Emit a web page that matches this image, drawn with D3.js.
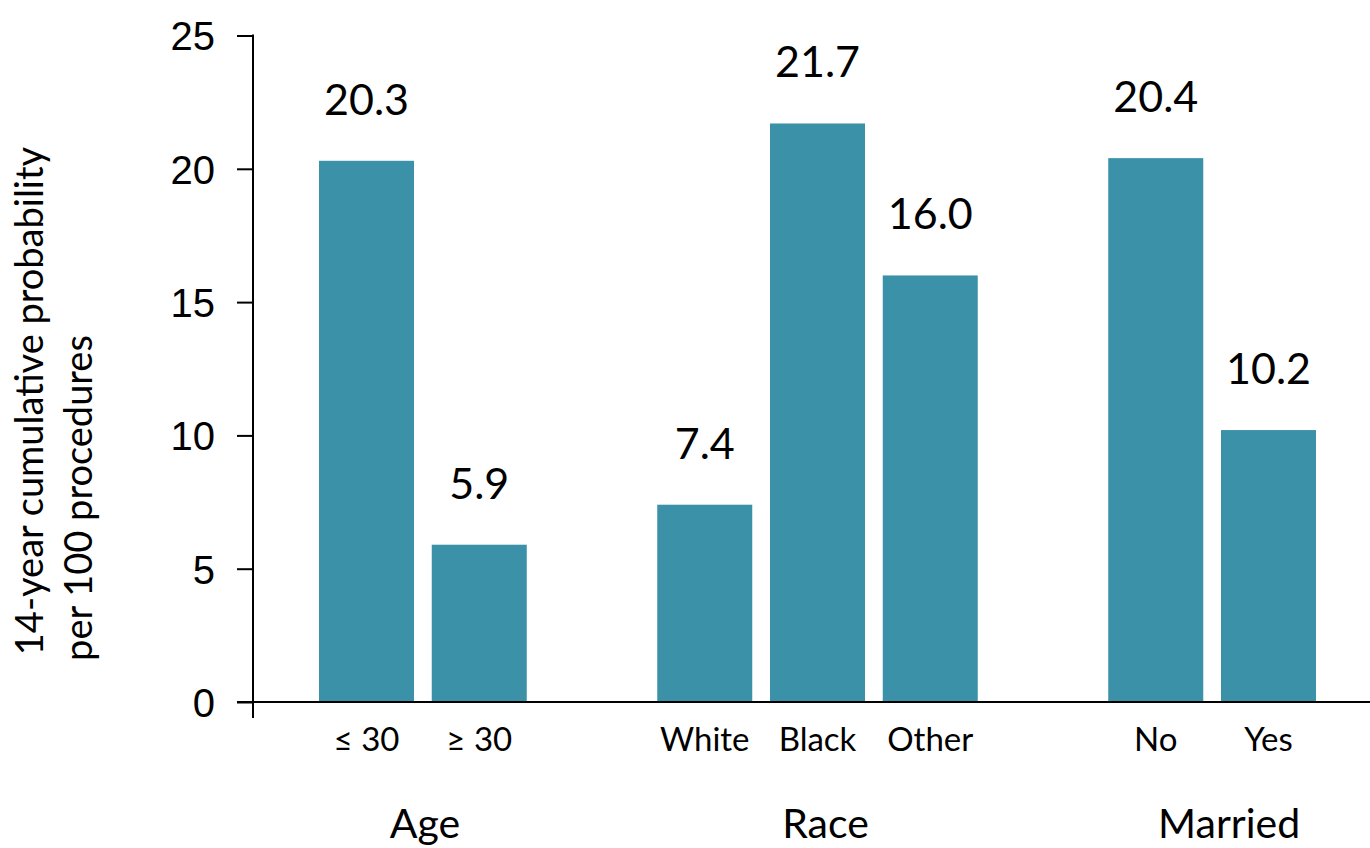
<!DOCTYPE html>
<html>
<head>
<meta charset="utf-8">
<script src="https://cdn.jsdelivr.net/npm/d3@7"></script>
<style>
  html, body { margin: 0; padding: 0; background: #fff; }
  svg { display: block; font-family: Lato, "Noto Sans", sans-serif; }
</style>
</head>
<body>
<svg id="chart" width="1370" height="848"></svg>
<script>
// Groups and their categories, in drawing order
const groups = ["Age", "Race", "Married"];
const categories = [
  ["\u2264 30", "\u2265 30"],
  ["White", "Black", "Other"],
  ["No", "Yes"]
];
// 14-year cumulative probability per 100 procedures
const values = [
  [20.3, 5.9],
  [7.4, 21.7, 16.0],
  [20.4, 10.2]
];
const yTicks = [0, 5, 10, 15, 20, 25];
const yTitle = ["14-year cumulative probability", "per 100 procedures"];

const barColor = "#3a91a8";
const svg = d3.select("#chart");

// Flatten into slots; one empty slot separates neighbouring groups
const slots = [];
const bars = [];
groups.forEach((g, gi) => {
  categories[gi].forEach((c, ci) => {
    const key = g + "|" + c;
    slots.push(key);
    bars.push({ key, group: g, label: c, value: values[gi][ci] });
  });
  if (gi < groups.length - 1) slots.push("gap" + gi);
});

const x = d3.scaleBand()
  .domain(slots)
  .range([319, 1316])
  .paddingInner(0.1574)
  .paddingOuter(0);

const y = d3.scaleLinear()
  .domain([0, 25])
  .range([702, 35.5]);

// Y axis
const yAxis = d3.axisLeft(y)
  .tickValues(yTicks)
  .tickSize(16)
  .tickSizeOuter(0)
  .tickPadding(22)
  .tickFormat(d3.format("d"));

const yg = svg.append("g")
  .attr("transform", "translate(253,0)")
  .call(yAxis);
yg.select(".domain").remove();
yg.selectAll(".tick line").attr("stroke", "#000").attr("stroke-width", 2);
yg.selectAll(".tick text")
  .attr("fill", "#000")
  .style("font-size", "40px")
  .attr("dy", "0.36em");
// vertical axis line, running a little below the baseline
yg.append("line")
  .attr("x1", 0).attr("x2", 0)
  .attr("y1", y(25) - 1).attr("y2", y(0) + 16)
  .attr("stroke", "#000").attr("stroke-width", 2);

// Bars
svg.append("g").selectAll("rect")
  .data(bars)
  .join("rect")
  .attr("x", d => x(d.key))
  .attr("width", x.bandwidth())
  .attr("y", d => y(d.value))
  .attr("height", d => y(0) - y(d.value))
  .attr("fill", barColor);

// Baseline
svg.append("line")
  .attr("x1", 237).attr("x2", 1370)
  .attr("y1", y(0)).attr("y2", y(0))
  .attr("stroke", "#000").attr("stroke-width", 2.2);

// Value labels
svg.append("g").selectAll("text")
  .data(bars)
  .join("text")
  .attr("x", d => x(d.key) + x.bandwidth() / 2)
  .attr("y", d => y(d.value) - 46)
  .attr("text-anchor", "middle")
  .style("font-size", "43px")
  .attr("fill", "#000")
  .text(d => d3.format(".1f")(d.value));

// Category labels
svg.append("g").selectAll("text")
  .data(bars)
  .join("text")
  .attr("x", d => x(d.key) + x.bandwidth() / 2)
  .attr("y", 751)
  .attr("text-anchor", "middle")
  .style("font-size", "33px")
  .attr("fill", "#000")
  .text(d => d.label);

// Group labels, centred under each group
const groupShift = [2, 8, 17];
svg.append("g").selectAll("text")
  .data(groups)
  .join("text")
  .attr("x", (g, gi) => {
    const keys = categories[gi].map(c => g + "|" + c);
    const x0 = x(keys[0]);
    const x1 = x(keys[keys.length - 1]) + x.bandwidth();
    return (x0 + x1) / 2 + groupShift[gi];
  })
  .attr("y", 838)
  .attr("text-anchor", "middle")
  .style("font-size", "41px")
  .attr("fill", "#000")
  .text(g => g);

// Y axis title, two rotated lines
const titlePos = [[43, 401], [92, 498]];
svg.append("g").selectAll("text")
  .data(yTitle)
  .join("text")
  .attr("transform", (t, i) => `translate(${titlePos[i][0]},${titlePos[i][1]}) rotate(-90)`)
  .attr("text-anchor", "middle")
  .style("font-size", "38px")
  .attr("fill", "#000")
  .text(t => t);
</script>
</body>
</html>
